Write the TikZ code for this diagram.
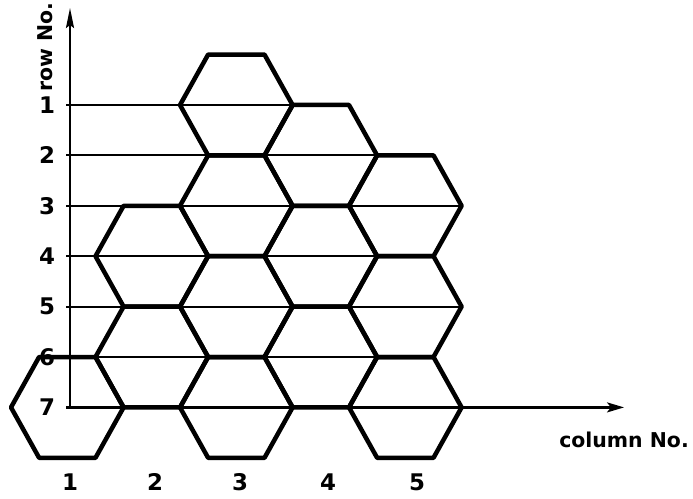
\documentclass[tikz,border=0pt]{standalone}
\usepackage{fontspec}
\setmainfont{DejaVu Sans}
\usetikzlibrary{arrows.meta}
\begin{document}
\begin{tikzpicture}[x=1bp,y=-1bp,
  hexline/.style={line width=4.5bp,line join=round},
  rowline/.style={line width=1.8bp},
  axisline/.style={line width=2.3bp},
  lab/.style={font=\fontsize{20.5}{20.5}\selectfont\bfseries,inner sep=0pt},
  numlab/.style={font=\fontsize{23}{23}\selectfont\bfseries,inner sep=0pt}]
\useasboundingbox (0,0) rectangle (693,499);
\def\W{56.3}\def\w{28.2}\def\H{50.4}
% row lines
\foreach \r/\xe in {1/292.6,2/377.1,3/461.6,4/377.1,5/461.6,6/377.1}{
  \coordinate (rs\r) at (66,{105+(\r-1)*\H});
  \coordinate (re\r) at (\xe,{105+(\r-1)*\H});
  \draw[rowline] (rs\r) -- (re\r);
}
\foreach \r in {1,...,7}{
  \node[numlab] (rl\r) at (47,{105+(\r-1)*\H}) {\r};
}
% axes
\coordinate (origin) at (70,408.4);
\coordinate (xstart) at (66,407.4);
\coordinate (ytip) at (70,8);
\coordinate (xtip) at (624,407.4);
\draw[axisline,-{Stealth[length=20bp,width=8bp,inset=3bp]}] (origin) -- (ytip);
\draw[axisline,-{Stealth[length=17bp,width=10bp,inset=4bp]}] (xstart) -- (xtip);
% hexagons
\foreach \c/\r in {1/7,2/4,2/6,3/1,3/3,3/5,3/7,4/2,4/4,4/6,5/3,5/5,5/7}{
  \pgfmathsetmacro\cx{236.3+(\c-3)*84.5}
  \pgfmathsetmacro\cy{105+(\r-1)*\H}
  \draw[hexline] ({\cx-\W},\cy) -- ({\cx-\w},{\cy-\H}) -- ({\cx+\w},{\cy-\H})
    -- ({\cx+\W},\cy) -- ({\cx+\w},{\cy+\H}) -- ({\cx-\w},{\cy+\H}) -- cycle;
}
% column labels
\foreach \c/\x in {1/70,2/155,3/240,4/328,5/417}{
  \node[numlab] (cl\c) at (\x,482) {\c};
}
\node[lab] (coltitle) at (624,440) {column No.};
\node[lab,rotate=90] (rowtitle) at (45,47) {row No.};
\end{tikzpicture}
\end{document}
